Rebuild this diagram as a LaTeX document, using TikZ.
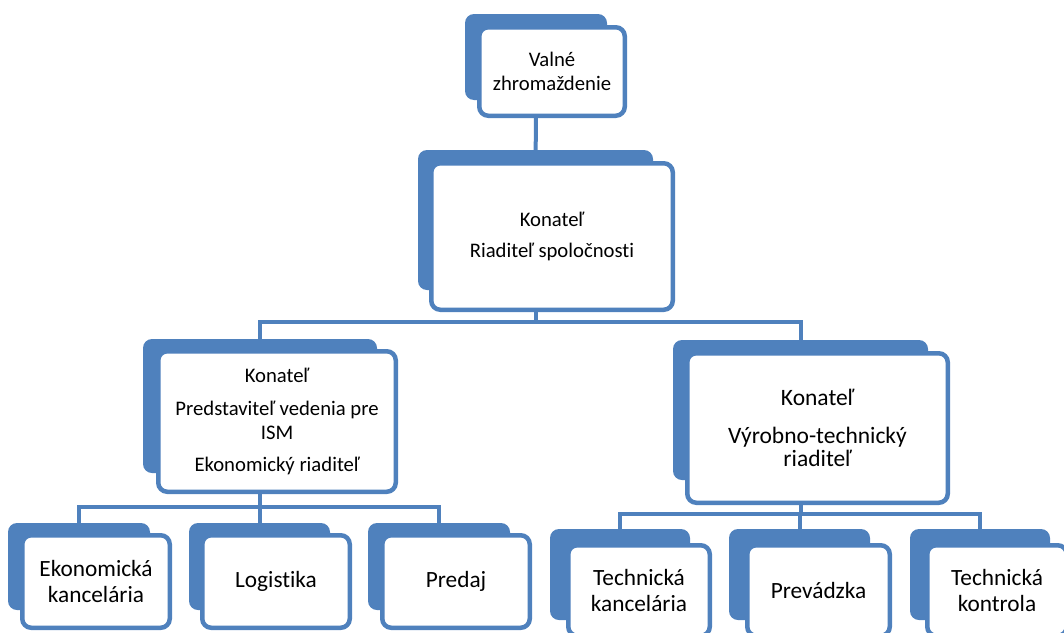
\documentclass[tikz,border=0pt]{standalone}
\usepackage{fontspec}
\setmainfont{Carlito}[Ligatures=NoCommon]
\usetikzlibrary{backgrounds}
\definecolor{acc}{HTML}{4F81BD}
\newcommand\ShBox[5]{\node[shad, minimum width={#4-#2}, minimum height={#5-#3}] (#1) at ({(#2+#4)/2},{(#3+#5)/2}) {};}
\newcommand\FrBox[7]{\node[front,#6, minimum width={#4-#2-4.5}, minimum height={#5-#3-4.5}] (#1) at ({(#2+#4)/2},{(#3+#5)/2}) {#7};}
\begin{document}
\begin{tikzpicture}[x=1pt,y=-1pt,
  conn/.style={draw=acc, line width=4pt},
  shad/.style={rectangle, fill=acc, rounded corners=9pt, inner sep=0pt},
  front/.style={rectangle, draw=acc, fill=white, line width=4.5pt, rounded corners=9pt, inner sep=0pt, align=center, text=black},
  fa/.style={font=\fontsize{20.7}{24}\selectfont},
  fc/.style={font=\fontsize{23.5}{23}\selectfont},
  fb/.style={font=\fontsize{23.3}{26}\selectfont}]
\useasboundingbox (0,0) rectangle (1064,632);
% top
\ShBox{s1}{465}{14}{607}{100}
\FrBox{b1}{477}{25}{627}{118}{fa}{Valné\\zhromaždenie}
% level 2
\ShBox{s2}{418}{150}{653}{290}
\FrBox{b2}{429}{161}{675}{312}{fa}{Konateľ\\[7pt]Riaditeľ spoločnosti}
% level 3
\ShBox{s3}{143}{339}{377}{473}
\FrBox{b3}{156}{349}{398}{494}{fa}{Konateľ\\[9pt]Predstaviteľ vedenia pre\\ISM\\[8pt]Ekonomický riaditeľ}
\ShBox{s4}{673}{340}{928}{480}
\FrBox{b4}{685}{351}{950}{505}{fc}{Konateľ\\[15pt]Výrobno-technický\\riaditeľ}
% leaves left
\ShBox{s5}{8}{523}{150}{610}
\FrBox{b5}{20}{533}{172}{630}{fb}{Ekonomická\\kancelária}
\ShBox{s6}{189}{523}{330}{610}
\FrBox{b6}{200}{533}{352}{630}{fb}{Logistika}
\ShBox{s7}{368}{523}{510}{610}
\FrBox{b7}{380}{533}{532}{630}{fb}{Predaj}
% leaves right
\ShBox{s8}{550}{529}{690}{620}
\FrBox{b8}{566}{543}{712}{638}{fb}{Technická\\kancelária}
\ShBox{s9}{729}{529}{870}{620}
\FrBox{b9}{745}{543}{892}{638}{fb}{Prevádzka}
\ShBox{s10}{910}{529}{1050}{620}
\FrBox{b10}{925}{543}{1069}{638}{fb}{Technická\\kontrola}
% connectors
\coordinate (bar1) at (0,322);
\coordinate (bar2) at (0,507);
\coordinate (bar3) at (0,514);
\begin{pgfonlayer}{background}
\draw[conn] (s1.center) -- (s2.center);
\coordinate (j1) at (s2.center |- bar1);
\draw[conn] (s2.center) -- (j1);
\draw[conn] (s3.center) |- (j1) -| (s4.center);
\coordinate (j2) at (s3.center |- bar2);
\draw[conn] (s3.center) -- (j2);
\draw[conn] (s5.center) |- (j2) -| (s7.center);
\draw[conn] (s6.center) -- (s6.center |- bar2);
\coordinate (j3) at (s4.center |- bar3);
\draw[conn] (s4.center) -- (j3);
\draw[conn] (s8.center) |- (j3) -| (s10.center);
\draw[conn] (s9.center) -- (s9.center |- bar3);
\end{pgfonlayer}
\end{tikzpicture}
\end{document}
